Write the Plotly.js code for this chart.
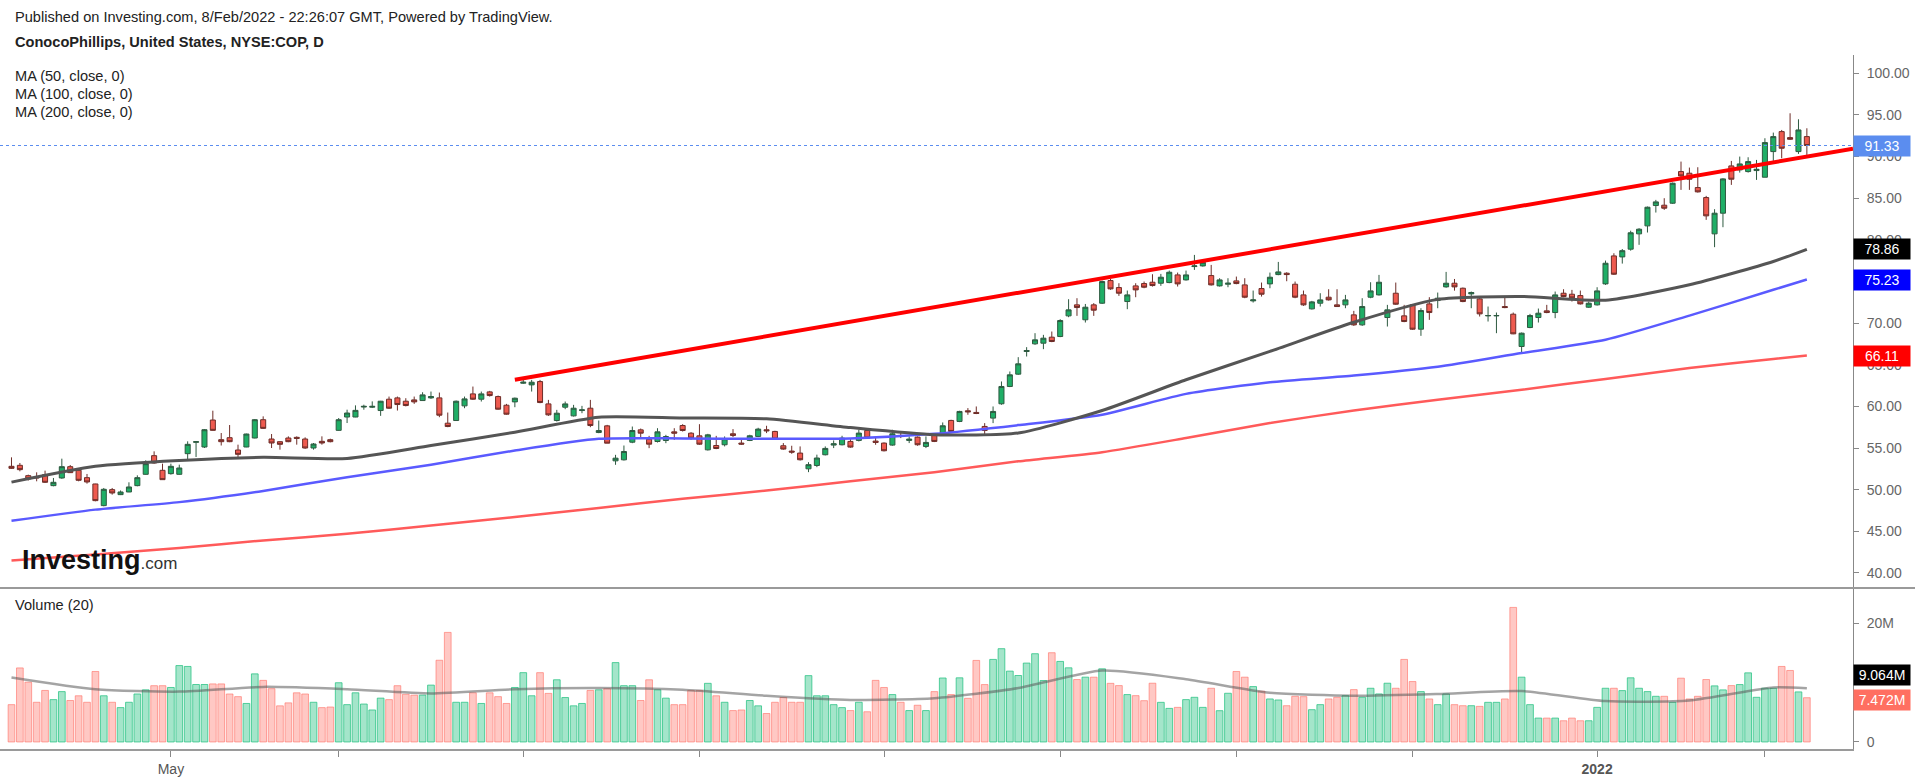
<!DOCTYPE html>
<html>
<head>
<meta charset="utf-8">
<script src="https://cdn.plot.ly/plotly-3.0.1.min.js"></script>
<style>
  html, body { margin: 0; padding: 0; background: #fff; }
  #chart { width: 1915px; height: 777px; }
</style>
</head>
<body>
<div id="chart"></div>
<script>
// COP daily, 6 Apr 2021 - 8 Feb 2022
const firstDay = '2021-04-06';
const lastDay = '2022-02-08';
const holidays = ['2021-05-31', '2021-07-05', '2021-09-06', '2021-11-25', '2021-12-24', '2022-01-17'];

const open = [
  52.8, 52.92, 51.68, 51.56, 51.8, 50.48, 51.4, 52.76, 52.32, 51.44,
  50.68, 48.08, 50.0, 49.4, 49.72, 50.48, 51.84, 54.08, 52.32, 51.92,
  51.84, 54.32, 55.68, 55.12, 58.36, 56.0, 56.24, 54.76, 55.12, 56.2,
  58.4, 56.08, 55.76, 56.2, 56.28, 56.08, 55.0, 55.8, 56.0, 57.12,
  58.72, 58.72, 59.92, 59.9, 59.5, 60.86, 61.02, 60.62, 60.78, 60.7,
  61.02, 61.02, 57.98, 58.3, 60.06, 61.5, 60.86, 61.74, 61.18, 60.14,
  60.54, 62.78, 62.58, 62.98, 60.3, 58.3, 59.9, 58.86, 59.5, 59.78,
  56.86, 57.66, 53.46, 53.58, 55.7, 57.18, 56.06, 55.78, 55.9, 56.94,
  57.7, 56.78, 56.46, 54.78, 55.3, 55.39, 56.71, 55.59, 55.91, 56.39,
  57.19, 56.99, 55.27, 54.63, 54.39, 52.5, 52.9, 54.19, 55.35, 55.39,
  55.79, 55.91, 57.11, 55.83, 55.59, 55.35, 56.51, 55.91, 56.31, 55.19,
  56.59, 56.71, 58.31, 58.19, 59.47, 59.27, 57.59, 58.59, 60.31, 62.39,
  63.87, 66.59, 67.51, 67.59, 68.31, 68.39, 70.87, 72.19, 70.4, 72.19,
  72.39, 75.11, 74.27, 72.59, 74.47, 74.75, 74.91, 74.79, 74.87, 75.79,
  75.19, 76.79, 76.87, 75.71, 74.47, 74.67, 75.07, 74.59, 72.67, 74.15,
  74.71, 75.83, 75.99, 74.67, 73.39, 71.71, 72.39, 73.11, 72.19, 72.19,
  70.99, 69.79, 73.11, 73.39, 70.67, 73.59, 70.87, 72.19, 69.27, 72.31,
  72.71, 74.35, 74.79, 74.19, 73.51, 72.91, 70.87, 70.87, 71.99, 71.07,
  67.19, 69.47, 70.67, 71.47, 71.27, 73.59, 73.47, 73.31, 71.91, 72.19,
  74.71, 78.07, 77.95, 78.88, 80.72, 81.68, 84.12, 84.16, 84.4, 88.2,
  88.0, 86.28, 85.08, 80.72, 83.2, 88.88, 88.4, 88.2, 88.32, 87.52,
  90.6, 93.0, 92.28, 90.6, 92.4
];
const high = [
  53.88, 53.2, 51.8, 52.08, 52.28, 51.4, 53.72, 52.96, 52.4, 51.88,
  50.7, 50.2, 50.2, 49.9, 50.88, 51.72, 53.52, 54.6, 53.12, 53.12,
  53.0, 55.8, 55.8, 57.28, 59.48, 56.8, 57.76, 55.4, 56.72, 58.48,
  58.8, 56.68, 55.8, 56.4, 56.4, 56.28, 55.6, 56.4, 56.12, 58.6,
  59.6, 60.12, 60.2, 60.6, 60.66, 61.18, 61.18, 60.98, 61.18, 61.7,
  61.78, 61.66, 59.26, 60.7, 61.18, 62.38, 61.78, 61.86, 61.3, 60.3,
  61.06, 63.38, 63.18, 63.18, 60.78, 59.58, 60.58, 60.18, 60.06, 60.78,
  58.3, 57.78, 54.18, 55.3, 57.58, 57.34, 56.46, 57.38, 56.58, 57.38,
  57.86, 56.9, 57.86, 56.7, 56.46, 56.39, 57.27, 56.19, 56.59, 57.43,
  57.67, 57.07, 55.59, 55.27, 55.19, 53.3, 54.2, 55.19, 55.91, 56.47,
  56.07, 57.19, 57.19, 56.31, 55.67, 57.19, 56.99, 56.39, 56.39, 56.39,
  56.71, 58.07, 58.39, 59.47, 59.79, 59.99, 57.99, 59.99, 62.99, 64.19,
  65.91, 67.11, 68.79, 68.59, 68.99, 70.47, 72.87, 72.99, 72.3, 72.4,
  75.1, 75.3, 74.79, 73.91, 74.79, 74.99, 75.87, 75.91, 76.31, 76.07,
  76.31, 78.19, 77.59, 76.99, 75.39, 75.39, 75.59, 75.39, 73.91, 74.87,
  76.07, 77.35, 76.11, 74.99, 73.91, 72.67, 73.59, 74.07, 74.07, 73.39,
  71.47, 72.99, 74.91, 75.79, 72.19, 74.87, 72.19, 72.27, 71.79, 73.11,
  73.67, 76.15, 75.3, 74.27, 73.79, 73.19, 71.99, 71.27, 73.27, 71.27,
  68.87, 71.11, 71.75, 72.19, 73.79, 74.07, 73.99, 73.91, 72.59, 74.31,
  77.51, 78.39, 78.9, 81.1, 81.4, 84.0, 84.8, 85.0, 86.88, 89.4,
  88.68, 88.72, 85.28, 83.68, 87.4, 89.48, 90.0, 89.92, 89.6, 92.2,
  92.88, 93.2, 95.2, 94.48, 93.4
];
const low = [
  52.5, 52.2, 51.1, 51.0, 50.8, 50.4, 51.3, 52.0, 51.0, 50.72,
  48.6, 48.0, 49.4, 49.35, 49.7, 50.4, 51.8, 53.12, 51.2, 51.8,
  51.8, 53.6, 53.92, 55.0, 57.1, 55.3, 55.7, 53.8, 55.1, 56.16,
  57.3, 55.0, 54.8, 55.7, 55.4, 54.9, 54.8, 55.4, 55.68, 57.08,
  58.0, 58.7, 59.6, 59.8, 58.86, 59.7, 59.5, 60.0, 60.3, 60.7,
  60.9, 58.7, 57.5, 58.3, 59.78, 60.78, 60.58, 61.18, 59.6, 59.0,
  59.9, 62.7, 61.78, 60.38, 58.86, 58.18, 59.66, 58.78, 59.18, 57.5,
  56.78, 55.58, 52.98, 53.5, 55.58, 56.3, 54.98, 55.66, 55.58, 55.98,
  56.98, 55.98, 55.38, 54.7, 54.86, 55.19, 56.31, 55.39, 55.83, 56.31,
  56.79, 55.99, 54.79, 54.31, 53.5, 52.1, 52.7, 54.11, 54.99, 55.31,
  55.03, 55.79, 56.11, 55.39, 54.59, 55.27, 56.19, 55.59, 55.27, 54.99,
  55.71, 56.63, 56.91, 58.11, 58.99, 59.07, 56.59, 57.99, 60.19, 62.31,
  63.79, 65.99, 67.39, 66.87, 67.71, 68.31, 70.71, 70.87, 70.07, 70.87,
  72.3, 74.0, 73.27, 71.67, 73.11, 74.19, 74.39, 74.47, 74.79, 74.39,
  75.11, 76.39, 76.79, 74.51, 74.39, 74.31, 74.67, 72.99, 72.47, 73.19,
  74.19, 75.75, 75.03, 72.99, 72.07, 71.63, 71.99, 72.71, 71.99, 71.79,
  69.67, 69.67, 72.99, 73.31, 69.59, 72.19, 70.11, 69.19, 68.47, 70.39,
  71.79, 74.25, 73.9, 72.51, 71.79, 70.79, 70.19, 68.79, 71.79, 68.67,
  66.31, 69.39, 70.07, 71.19, 70.59, 73.11, 72.59, 72.23, 71.83, 72.11,
  74.59, 75.79, 77.15, 78.7, 79.4, 80.88, 83.28, 83.6, 84.32, 86.0,
  86.0, 85.68, 82.4, 79.12, 81.52, 86.6, 88.08, 88.08, 87.2, 87.52,
  89.48, 89.8, 92.0, 90.32, 90.2
];
const close = [
  52.56, 52.4, 51.28, 51.4, 50.88, 50.88, 52.76, 52.04, 51.12, 50.92,
  48.68, 50.04, 49.6, 49.72, 50.32, 51.44, 53.12, 53.2, 51.2, 52.8,
  52.6, 55.44, 55.76, 57.2, 57.12, 55.76, 55.76, 54.24, 56.68, 58.4,
  57.36, 55.6, 55.44, 55.76, 56.16, 55.0, 55.48, 55.6, 55.76, 58.4,
  59.2, 59.52, 60.0, 60.0, 60.62, 59.78, 60.22, 60.1, 60.54, 61.38,
  61.18, 58.94, 57.58, 60.62, 60.9, 60.86, 61.5, 61.3, 59.66, 59.06,
  60.98, 62.9, 62.9, 60.46, 58.98, 59.18, 60.3, 59.78, 59.58, 57.7,
  57.1, 55.58, 53.78, 54.58, 57.1, 56.78, 55.46, 56.94, 56.38, 56.78,
  57.1, 56.18, 55.46, 56.58, 54.94, 56.11, 56.51, 55.47, 56.47, 57.27,
  57.07, 56.07, 54.87, 54.51, 53.59, 53.0, 53.8, 54.95, 55.51, 56.19,
  55.11, 56.79, 56.19, 55.67, 54.67, 56.71, 56.39, 56.07, 55.39, 55.67,
  55.79, 57.67, 56.99, 59.39, 59.35, 59.15, 57.11, 59.39, 62.39, 63.79,
  65.11, 66.71, 67.99, 68.19, 67.79, 70.31, 71.59, 71.87, 71.91, 71.55,
  74.99, 74.11, 73.59, 73.39, 73.99, 74.31, 74.51, 75.51, 76.11, 74.71,
  75.79, 76.87, 77.31, 74.59, 75.19, 74.79, 74.75, 73.11, 72.79, 73.47,
  75.51, 76.15, 75.83, 73.11, 72.19, 72.55, 72.79, 72.79, 71.99, 72.79,
  69.79, 71.99, 73.87, 74.91, 71.59, 72.27, 70.19, 69.27, 71.51, 71.27,
  72.99, 74.79, 74.35, 72.59, 73.67, 71.11, 70.91, 70.91, 71.87, 68.71,
  68.79, 70.91, 71.19, 71.27, 73.39, 73.19, 73.03, 72.31, 72.39, 73.87,
  77.19, 75.87, 78.7, 80.85, 81.28, 83.92, 84.56, 83.8, 86.8, 87.68,
  87.28, 85.76, 82.88, 83.2, 87.32, 87.28, 89.12, 89.4, 88.48, 91.68,
  92.4, 91.0, 92.08, 93.2, 91.33
];
// volume in millions of shares
const volume = [
  6.3, 12.5, 10.1, 6.7, 8.7, 7.15, 8.5, 7.0, 7.8, 6.7,
  11.9, 7.8, 6.7, 5.8, 6.7, 8.1, 8.8, 9.5, 9.5, 9.2,
  12.9, 12.75, 9.7, 9.7, 9.8, 9.8, 8.1, 7.65, 6.5, 11.5,
  10.4, 9.0, 6.1, 6.6, 8.3, 8.1, 6.7, 5.8, 5.9, 10.0,
  6.3, 8.3, 6.4, 5.4, 7.4, 7.15, 9.5, 8.05, 7.9, 7.9,
  9.6, 13.8, 18.5, 6.7, 6.7, 8.3, 6.5, 8.3, 7.65, 6.5,
  9.2, 11.7, 7.8, 11.7, 8.2, 10.5, 7.5, 6.1, 6.5, 8.7,
  8.8, 9.0, 13.4, 9.5, 9.5, 7.0, 10.5, 8.8, 7.4, 6.3,
  6.3, 8.7, 8.7, 9.9, 7.8, 6.7, 5.3, 5.4, 7.0, 6.1,
  4.8, 6.7, 7.5, 6.7, 6.7, 11.2, 7.8, 7.8, 6.3, 5.8,
  5.3, 6.7, 5.1, 10.4, 9.2, 8.0, 6.7, 5.3, 6.2, 5.3,
  8.5, 10.8, 8.0, 10.83, 7.37, 13.77, 9.69, 13.94, 15.75, 11.96,
  11.22, 13.32, 14.9, 10.37, 15.07, 13.6, 12.52, 10.54, 10.94, 10.94,
  12.35, 9.9, 9.52, 8.0, 7.82, 6.97, 9.92, 6.69, 5.67, 5.84,
  7.15, 7.54, 5.84, 9.07, 5.28, 8.22, 11.9, 10.94, 9.35, 8.56,
  7.26, 7.09, 6.12, 7.71, 7.65, 5.45, 6.3, 7.26, 7.54, 7.82,
  8.84, 7.54, 9.07, 8.11, 9.92, 9.07, 13.94, 10.2, 8.5, 7.26,
  6.3, 8.11, 6.3, 6.12, 6.12, 6.01, 6.69, 6.69, 7.26, 22.72,
  10.94, 6.3, 4.03, 4.03, 4.03, 3.58, 4.03, 3.58, 3.58, 5.84,
  9.07, 9.07, 8.67, 10.83, 9.07, 8.5, 7.71, 7.71, 6.69, 10.77,
  7.26, 7.71, 10.54, 9.47, 8.79, 9.52, 9.69, 11.67, 7.54, 9.07,
  9.07, 12.75, 12.07, 8.45, 7.472
];

// moving averages, read every 10th bar (last = Feb 8)
const maBars = [0, 10, 20, 30, 40, 50, 60, 70, 80, 90, 100, 110, 120, 130, 140, 150, 160, 170, 180, 190, 200, 210, 214];
const ma50 = [50.9, 52.8, 53.5, 53.88, 53.75, 55.3, 56.9, 58.7, 58.6, 58.5, 57.45, 56.6, 56.8, 59.5, 63.2, 66.6, 70.1, 72.85, 73.2, 72.75, 74.6, 77.4, 78.86];
const ma100 = [46.25, 47.6, 48.5, 49.85, 51.5, 53.0, 54.7, 56.1, 56.15, 56.1, 56.15, 56.7, 57.75, 59.0, 61.5, 62.9, 63.7, 64.75, 66.4, 68.0, 70.9, 74.0, 75.23];
const ma200 = [41.5, 42.2, 43.0, 43.9, 44.7, 45.7, 46.7, 47.8, 48.9, 49.9, 51.0, 52.1, 53.4, 54.5, 56.2, 58.0, 59.5, 60.8, 62.0, 63.3, 64.6, 65.7, 66.11];
const volMa20 = [10.9, 8.9, 8.5, 9.3, 8.9, 8.2, 8.9, 9.1, 8.8, 7.8, 7.1, 7.4, 9.1, 12.05, 10.6, 8.3, 7.8, 8.1, 8.6, 6.9, 7.0, 9.2, 9.064];

// hand drawn resistance line
const trendFrom = { date: '2021-06-30', price: 63.2 };
const trendTo = { date: '2022-02-08', price: 90.0 };

const monthTicks = ['2021-05', '2021-06', '2021-07', '2021-08', '2021-09', '2021-10', '2021-11', '2021-12', '2022-01', '2022-02'];
const monthLabels = ['May', '', '', '', '', '', '', '', '<b>2022</b>', ''];
const priceTicks = [40, 45, 50, 55, 60, 65, 70, 75, 80, 85, 90, 95, 100];

// trading calendar
function tradingDays(from, to, skip) {
  const out = [];
  const d = new Date(from + 'T00:00:00Z');
  const end = new Date(to + 'T00:00:00Z');
  while (d <= end) {
    const s = d.toISOString().slice(0, 10);
    const wd = d.getUTCDay();
    if (wd !== 0 && wd !== 6 && !skip.includes(s)) out.push(s);
    d.setUTCDate(d.getUTCDate() + 1);
  }
  return out;
}
const dates = tradingDays(firstDay, lastDay, holidays);
const idx = dates.map((_, i) => i);

// figure geometry (px)
const W = 1915, H = 777;
const M = { l: 0, r: 62, t: 55, b: 28 };
const plotW = W - M.l - M.r, plotH = H - M.t - M.b;
const fx = px => (px - M.l) / plotW;
const fy = py => (H - M.b - py) / plotH;
const xMin = -1.37, xMax = 219.5;

const font = 'Arial, "Liberation Sans", sans-serif';
const up = close.map((c, i) => c >= open[i]);

const tickIdx = monthTicks.map(m => dates.findIndex(d => d.startsWith(m)));

const t0 = dates.indexOf(trendFrom.date), t1 = dates.indexOf(trendTo.date);
const slope = (trendTo.price - trendFrom.price) / (t1 - t0);
const trendEndY = trendTo.price + slope * (xMax - t1);

const traces = [
  {
    type: 'bar', x: idx, y: volume, xaxis: 'x', yaxis: 'y2', width: 0.8,
    marker: {
      color: up.map(u => u ? 'rgba(38,194,129,0.42)' : 'rgba(255,110,100,0.38)'),
      line: { color: up.map(u => u ? 'rgba(38,194,129,0.75)' : 'rgba(255,110,100,0.6)'), width: 1 }
    },
    hoverinfo: 'skip'
  },
  {
    type: 'scatter', mode: 'lines', x: maBars, y: volMa20, xaxis: 'x', yaxis: 'y2',
    line: { color: 'rgba(90,90,90,0.55)', width: 2.5, shape: 'spline', smoothing: 0.6 }, hoverinfo: 'skip'
  },
  {
    type: 'scatter', mode: 'lines', x: maBars, y: ma200, line: { color: '#ff5a5a', width: 2.5, shape: 'spline', smoothing: 0.6 }, hoverinfo: 'skip'
  },
  {
    type: 'scatter', mode: 'lines', x: maBars, y: ma100, line: { color: '#5a5aff', width: 2.5, shape: 'spline', smoothing: 0.6 }, hoverinfo: 'skip'
  },
  {
    type: 'scatter', mode: 'lines', x: maBars, y: ma50, line: { color: '#555555', width: 3, shape: 'spline', smoothing: 0.6 }, hoverinfo: 'skip'
  },
  {
    type: 'candlestick', x: idx, open: open, high: high, low: low, close: close,
    increasing: { line: { color: '#2e5a40', width: 1 }, fillcolor: '#1fae66' },
    decreasing: { line: { color: '#6e2d28', width: 1 }, fillcolor: '#ee5a4f' },
    whiskerwidth: 0, hoverinfo: 'skip'
  }
];

function sideLabel(y, yref, text, bg, shift) {
  return {
    xref: 'paper', yref: yref, x: 1, y: y, xanchor: 'left', yanchor: 'middle',
    text: text, showarrow: false, bgcolor: bg, width: 52, height: 16, borderpad: 2,
    yshift: shift || 0,
    font: { family: font, size: 14, color: '#fff' }
  };
}
function textAt(px, py, text, size, extra) {
  return Object.assign({
    xref: 'paper', yref: 'paper', x: fx(px), y: fy(py), xanchor: 'left', yanchor: 'middle',
    text: text, showarrow: false, font: { family: font, size: size, color: '#222' }
  }, extra || {});
}

const last = dates.length - 1;
const annotations = [
  textAt(13, 17, 'Published on Investing.com, 8/Feb/2022 - 22:26:07 GMT, Powered by TradingView.', 14.6),
  textAt(13, 42, '<b>ConocoPhillips, United States, NYSE:COP, D</b>', 14.6),
  textAt(13, 76, 'MA (50, close, 0)', 14.6),
  textAt(13, 94, 'MA (100, close, 0)', 14.6),
  textAt(13, 112, 'MA (200, close, 0)', 14.6),
  textAt(13, 605, 'Volume (20)', 14.6),
  textAt(20, 560, '<b>Investing</b><span style="font-size:17px;color:#333">.com</span>', 27, { font: { family: font, size: 27, color: '#111' } }),
  sideLabel(close[last], 'y', close[last].toFixed(2), '#5b8def'),
  sideLabel(ma50[ma50.length - 1], 'y', ma50[ma50.length - 1].toFixed(2), '#000'),
  sideLabel(ma100[ma100.length - 1], 'y', ma100[ma100.length - 1].toFixed(2), '#0000ff'),
  sideLabel(ma200[ma200.length - 1], 'y', ma200[ma200.length - 1].toFixed(2), '#ff0000'),
  // the two volume labels would collide, the upper one is pushed up as on the original
  sideLabel(volMa20[volMa20.length - 1], 'y2', volMa20[volMa20.length - 1].toFixed(3) + 'M', '#000', 13),
  sideLabel(volume[last], 'y2', volume[last].toFixed(3) + 'M', '#ff6f61', -2)
];

const shapes = [
  { type: 'line', xref: 'x', yref: 'y', x0: xMin, x1: xMax, y0: close[last], y1: close[last], line: { color: '#5b8def', width: 1, dash: 'dot' } },
  { type: 'line', xref: 'x', yref: 'y', x0: t0, y0: trendFrom.price, x1: xMax, y1: trendEndY, line: { color: '#ff0000', width: 4 } },
  { type: 'line', xref: 'paper', yref: 'paper', x0: 0, x1: W / plotW, y0: fy(588), y1: fy(588), line: { color: '#9a9a9a', width: 2 } }
];

const layout = {
  width: W, height: H,
  margin: M,
  paper_bgcolor: '#fff', plot_bgcolor: '#fff',
  showlegend: false,
  boxgap: 0.2, boxgroupgap: 0.25,
  bargap: 0,
  font: { family: font, size: 13, color: '#555' },
  xaxis: {
    type: 'linear', range: [xMin, xMax], anchor: 'y2',
    tickvals: tickIdx, ticktext: monthLabels,
    ticks: 'outside', ticklen: 6, tickcolor: '#888', tickwidth: 1,
    showline: true, linecolor: '#9a9a9a', linewidth: 2,
    showgrid: false, zeroline: false,
    rangeslider: { visible: false },
    tickfont: { family: font, size: 14, color: '#555' }
  },
  yaxis: {
    domain: [fy(588) + 0.001, 1], side: 'right', anchor: 'x', range: [38.27, 102.2],
    tickvals: priceTicks, ticktext: priceTicks.map(v => v.toFixed(2)),
    ticks: 'outside', ticklen: 5, tickcolor: '#888', ticklabelstandoff: 5,
    showline: true, linecolor: '#888', linewidth: 1,
    showgrid: false, zeroline: false,
    tickfont: { family: font, size: 14, color: '#666' }
  },
  yaxis2: {
    domain: [0, fy(589)], side: 'right', anchor: 'x', range: [-1.19, 25.83],
    tickvals: [0, 20], ticktext: ['0', '20M'],
    ticks: 'outside', ticklen: 5, tickcolor: '#888', ticklabelstandoff: 5,
    showline: true, linecolor: '#888', linewidth: 1,
    showgrid: false, zeroline: false,
    tickfont: { family: font, size: 14, color: '#666' }
  },
  annotations: annotations,
  shapes: shapes
};

Plotly.newPlot('chart', traces, layout, { staticPlot: true, displayModeBar: false });
</script>
</body>
</html>
